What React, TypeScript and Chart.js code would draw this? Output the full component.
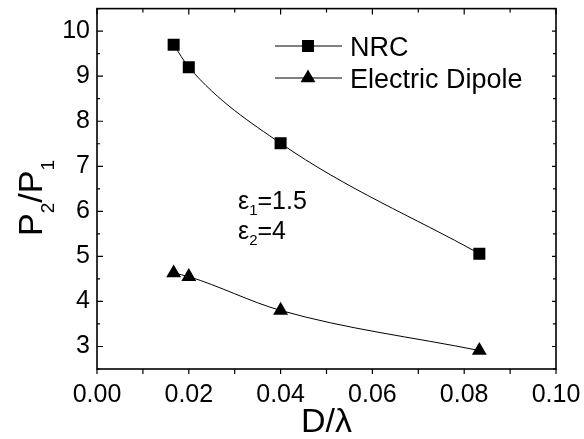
import React, { useEffect, useRef } from 'react';
import { Chart, registerables } from 'chart.js';

Chart.register(...registerables);

const seriesNames = ['NRC', 'Electric Dipole'];
const xNRC = [0.0167, 0.02, 0.04, 0.0833];
const yNRC = [9.7, 9.2, 7.51, 5.06];
const xDipole = [0.0167, 0.02, 0.04, 0.0833];
const yDipole = [4.63, 4.55, 3.8, 2.91];
const xTicks = [0, 0.02, 0.04, 0.06, 0.08, 0.1];
const xMinorTicks = [0.01, 0.03, 0.05, 0.07, 0.09];
const yTicks = [3, 4, 5, 6, 7, 8, 9, 10];
const yMinorTicks = [2.5, 3.5, 4.5, 5.5, 6.5, 7.5, 8.5, 9.5, 10.5];
const xTitle = 'D/λ';
const annotation1 = ['ε', '1', '=1.5'];
const annotation2 = ['ε', '2', '=4'];

const FONT = '"Liberation Sans", Arial, Helvetica, sans-serif';

function drawSubText(
  ctx: CanvasRenderingContext2D,
  parts: string[],
  x: number,
  y: number,
  mainSize: number,
  subSize: number,
  shift: number
) {
  let cx = x;
  parts.forEach((p, i) => {
    const isSub = i % 2 === 1;
    ctx.font = `${isSub ? subSize : mainSize}px ${FONT}`;
    ctx.fillText(p, cx, y + (isSub ? shift : 0));
    cx += ctx.measureText(p).width;
  });
  return cx - x;
}

function measureSubText(ctx: CanvasRenderingContext2D, parts: string[], mainSize: number, subSize: number) {
  let w = 0;
  parts.forEach((p, i) => {
    const isSub = i % 2 === 1;
    ctx.font = `${isSub ? subSize : mainSize}px ${FONT}`;
    w += ctx.measureText(p).width;
  });
  return w;
}

const decorPlugin = {
  id: 'decor',
  afterDraw(chart: any) {
    const ctx: CanvasRenderingContext2D = chart.ctx;
    const { left, right, top, bottom } = chart.chartArea;
    const xs = chart.scales.x;
    const ys = chart.scales.y;
    ctx.save();
    ctx.strokeStyle = '#000';
    ctx.fillStyle = '#000';
    ctx.lineWidth = 1.6;
    ctx.strokeRect(left, top, right - left, bottom - top);
    ctx.lineWidth = 1.2;
    ctx.beginPath();
    xTicks.forEach((v) => {
      const px = xs.getPixelForValue(v);
      ctx.moveTo(px, bottom);
      ctx.lineTo(px, bottom + 5);
      ctx.moveTo(px, top);
      ctx.lineTo(px, top + 6);
    });
    xMinorTicks.forEach((v) => {
      const px = xs.getPixelForValue(v);
      ctx.moveTo(px, bottom);
      ctx.lineTo(px, bottom + 5);
      ctx.moveTo(px, top);
      ctx.lineTo(px, top + 4);
    });
    yTicks.forEach((v) => {
      const py = ys.getPixelForValue(v);
      ctx.moveTo(left, py);
      ctx.lineTo(left + 6, py);
      ctx.moveTo(right, py);
      ctx.lineTo(right - 4, py);
    });
    yMinorTicks.forEach((v) => {
      const py = ys.getPixelForValue(v);
      ctx.moveTo(left, py);
      ctx.lineTo(left + 3, py);
      ctx.moveTo(right, py);
      ctx.lineTo(right - 3, py);
    });
    ctx.stroke();

    // legend
    ctx.lineWidth = 1;
    const legY = [46, 78];
    const legTextY = [56, 88];
    seriesNames.forEach((name, i) => {
      ctx.beginPath();
      ctx.moveTo(275, legY[i]);
      ctx.lineTo(342, legY[i]);
      ctx.stroke();
      const cx = 308;
      const cy = legY[i];
      ctx.beginPath();
      if (i === 0) {
        ctx.rect(cx - 6, cy - 6, 12, 12);
      } else {
        const r = 8.6;
        ctx.moveTo(cx, cy - r);
        ctx.lineTo(cx + r * Math.sin(Math.PI / 3), cy + r / 2);
        ctx.lineTo(cx - r * Math.sin(Math.PI / 3), cy + r / 2);
        ctx.closePath();
      }
      ctx.fill();
      ctx.font = `27px ${FONT}`;
      ctx.textAlign = 'left';
      ctx.textBaseline = 'alphabetic';
      ctx.fillText(name, 350, legTextY[i]);
    });

    // annotations
    ctx.textAlign = 'left';
    ctx.textBaseline = 'alphabetic';
    drawSubText(ctx, annotation1, 238, 209, 25, 15, 6);
    drawSubText(ctx, annotation2, 238, 239, 25, 15, 6);

    // x title
    ctx.font = `34px ${FONT}`;
    ctx.textAlign = 'center';
    ctx.fillText(xTitle, (left + right) / 2, 432);

    // y title P2/P1
    ctx.save();
    ctx.translate(42, 198);
    ctx.rotate(-Math.PI / 2);
    ctx.textAlign = 'left';
    const yParts = ['P', '2', '/P', '1'];
    const w = measureSubText(ctx, yParts, 34, 19);
    drawSubText(ctx, yParts, -w / 2, 0, 34, 19, 12);
    ctx.restore();

    ctx.restore();
  },
};

export default function App() {
  const ref = useRef<HTMLCanvasElement | null>(null);
  useEffect(() => {
    if (!ref.current) return;
    const chart = new Chart(ref.current, {
      type: 'scatter',
      data: {
        datasets: [
          {
            label: seriesNames[0],
            data: xNRC.map((x, i) => ({ x, y: yNRC[i] })),
            showLine: true,
            borderColor: '#000',
            backgroundColor: '#000',
            borderWidth: 1,
            pointStyle: 'rect',
            pointRadius: 8.5,
            pointBorderWidth: 0,
            cubicInterpolationMode: 'monotone',
            tension: 0.4,
          },
          {
            label: seriesNames[1],
            data: xDipole.map((x, i) => ({ x, y: yDipole[i] })),
            showLine: true,
            borderColor: '#000',
            backgroundColor: '#000',
            borderWidth: 1,
            pointStyle: 'triangle',
            pointRadius: 8.6,
            pointBorderWidth: 0,
            cubicInterpolationMode: 'monotone',
            tension: 0.4,
          },
        ],
      },
      options: {
        animation: false,
        responsive: true,
        maintainAspectRatio: false,
        layout: { padding: { top: 7, right: 28, left: 0, bottom: 0 } },
        plugins: { legend: { display: false }, tooltip: { enabled: false } },
        scales: {
          x: {
            type: 'linear',
            min: 0,
            max: 0.1,
            grid: { display: false, drawTicks: false },
            border: { display: false },
            afterBuildTicks: (s: any) => {
              s.ticks = xTicks.map((v) => ({ value: v }));
            },
            afterFit: (s: any) => {
              s.height = 70;
              s.paddingLeft = 0;
              s.paddingRight = 0;
            },
            ticks: {
              color: '#000',
              font: { family: FONT, size: 25 },
              padding: 11,
              maxRotation: 0,
              autoSkip: false,
              callback: (v: any) => Number(v).toFixed(2),
            },
          },
          y: {
            type: 'linear',
            min: 2.5,
            max: 10.5,
            grid: { display: false, drawTicks: false },
            border: { display: false },
            afterBuildTicks: (s: any) => {
              s.ticks = yTicks.map((v) => ({ value: v }));
            },
            afterFit: (s: any) => {
              s.width = 97;
              s.paddingTop = 0;
              s.paddingBottom = 0;
            },
            ticks: {
              color: '#000',
              font: { family: FONT, size: 25 },
              padding: 7,
              autoSkip: false,
              callback: (v: any) => String(Math.round(Number(v))),
            },
          },
        },
      },
      plugins: [decorPlugin],
    } as any);
    return () => chart.destroy();
  }, []);
  return (
    <div style={{ position: 'fixed', left: 0, top: 0, width: 584, height: 439, background: '#fff' }}>
      <canvas ref={ref} />
    </div>
  );
}
